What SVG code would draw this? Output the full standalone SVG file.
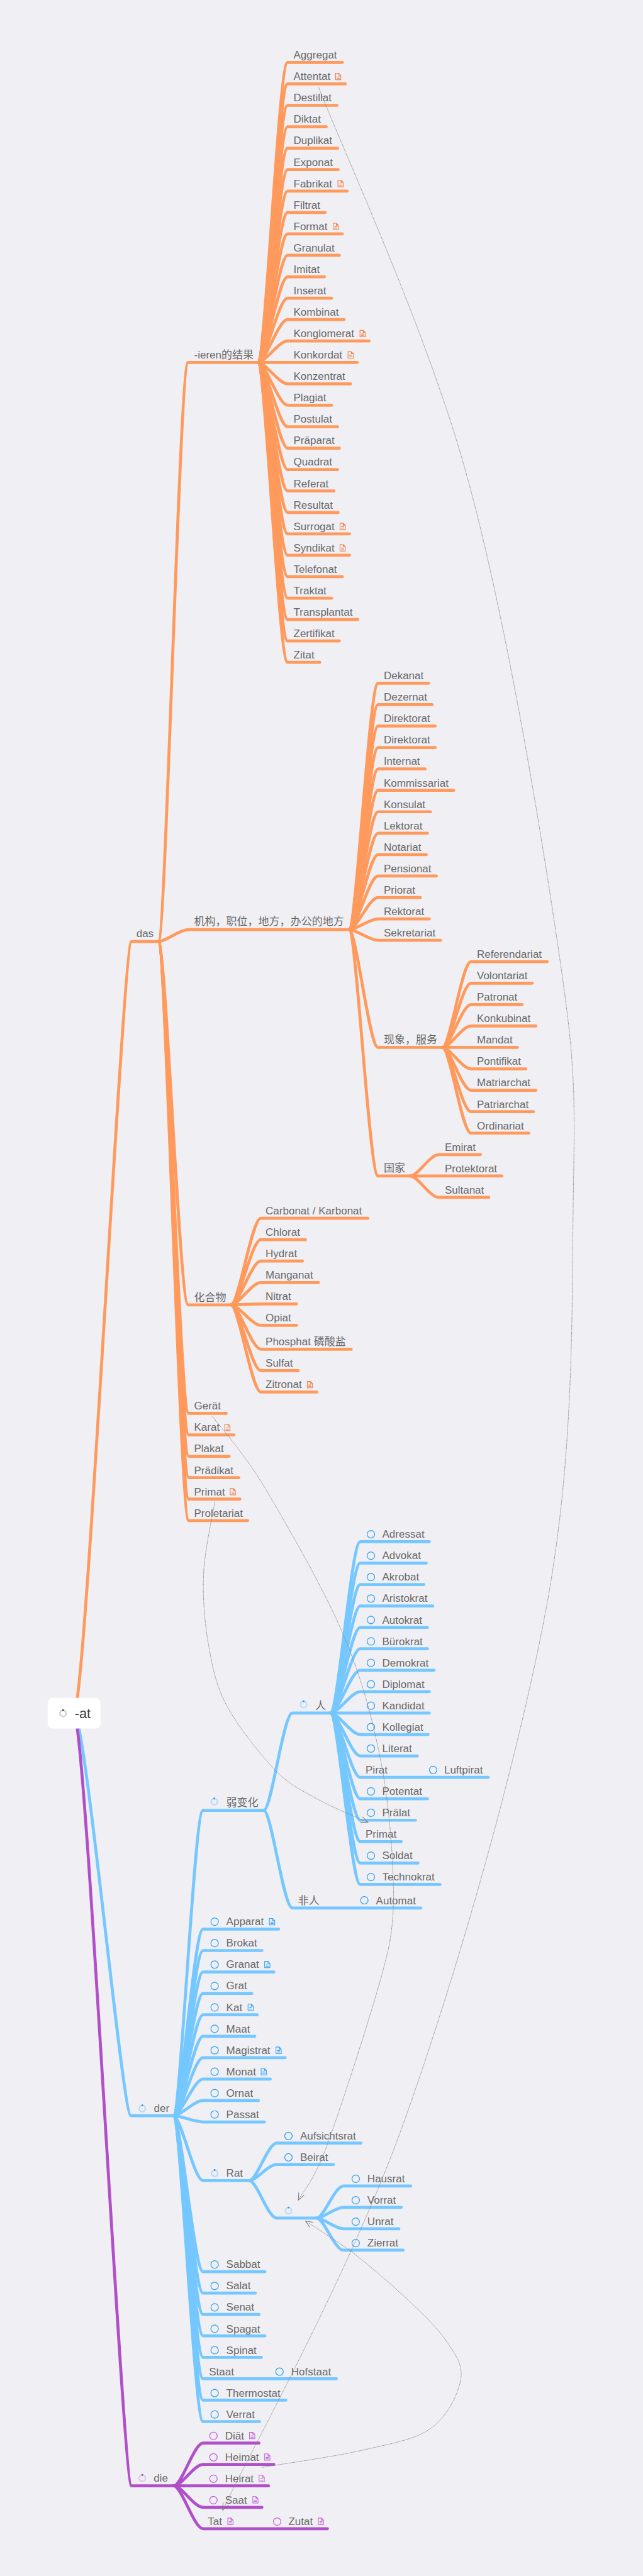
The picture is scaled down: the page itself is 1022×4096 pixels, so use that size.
<svg xmlns="http://www.w3.org/2000/svg" width="1022" height="4096" viewBox="0 0 1022 4096">
<style>
text{font-family:"Liberation Sans","Noto Sans CJK SC",Arial,sans-serif;font-size:18px;fill:#6a6a6a}
.root{font-size:23px;fill:#3c3c3c}
#connectors path{fill:none;stroke-width:5;stroke-linecap:round;stroke-linejoin:round}
#orange path{stroke:#ff9a5c}
#blue path{stroke:#75c7ff}
#purple path{stroke:#b14fc8}
#links path{fill:none;stroke:#858585;stroke-width:.9;stroke-dasharray:1.6 .7}
.cb,.cp{fill:none;stroke-width:1.3}
.cb{stroke:#2ba0f0}
.cp{stroke:#c060d8}
.doc{fill:none;stroke-width:1.1}
.do{stroke:#f2763c}
.db{stroke:#2ba0f0}
.dp{stroke:#c060d8}
.rb,.rp,.rg{fill:none;stroke-width:2.6}
.rb{stroke:#bcdcf5}
.rp{stroke:#e4c9ec}
.rg{stroke:#cfcfcf}
</style>
<defs>
<path id="doc" d="M.6.6H6L9.4 4V11.4H.6ZM6 .6V4H9.4M2.6 6.6H7.4M2.6 9H7.4"/>
<marker id="arr" markerUnits="userSpaceOnUse" markerWidth="16" markerHeight="14" refX="13" refY="6" orient="auto"><path d="M1 1L13 6L1 11" fill="none" stroke="#777" stroke-width="1"/></marker>
</defs>
<rect width="1022" height="4096" fill="#efeff4"/>
<g transform="scale(.9463)">
<g id="connectors">
<g id="orange">
<path d="M124 2879C144 2879 206 1582 221 1582H266"/>
<path d="M266 1582C279 1582 301 609 316 609H433"/>
<path d="M266 1582C279 1582 301 1562 316 1562H586"/>
<path d="M266 1582C279 1582 301 2192.5 316 2192.5H388"/>
<path d="M266 1582C279 1582 302 2375 317 2375H380"/>
<path d="M266 1582C279 1582 302 2411 317 2411H393"/>
<path d="M266 1582C279 1582 302 2447 317 2447H385"/>
<path d="M266 1582C279 1582 302 2483 317 2483H401"/>
<path d="M266 1582C279 1582 302 2519 317 2519H403"/>
<path d="M266 1582C279 1582 302 2555 317 2555H416"/>
<path d="M433 609C446 609 468 105 483 105H575"/>
<path d="M433 609C446 609 468 141 483 141H580"/>
<path d="M433 609C446 609 468 177 483 177H566"/>
<path d="M433 609C446 609 468 213 483 213H548"/>
<path d="M433 609C446 609 468 249 483 249H567"/>
<path d="M433 609C446 609 468 285 483 285H568"/>
<path d="M433 609C446 609 468 321 483 321H583"/>
<path d="M433 609C446 609 468 357 483 357H546"/>
<path d="M433 609C446 609 468 393 483 393H575"/>
<path d="M433 609C446 609 468 429 483 429H570"/>
<path d="M433 609C446 609 468 465 483 465H545"/>
<path d="M433 609C446 609 468 501 483 501H557"/>
<path d="M433 609C446 609 468 537 483 537H578"/>
<path d="M433 609C446 609 468 573 483 573H620"/>
<path d="M433 609H600"/>
<path d="M433 609C446 609 468 645 483 645H589"/>
<path d="M433 609C446 609 468 681 483 681H557"/>
<path d="M433 609C446 609 468 717 483 717H567"/>
<path d="M433 609C446 609 468 753 483 753H570"/>
<path d="M433 609C446 609 468 789 483 789H567"/>
<path d="M433 609C446 609 468 825 483 825H561"/>
<path d="M433 609C446 609 468 861 483 861H568"/>
<path d="M433 609C446 609 468 897 483 897H587"/>
<path d="M433 609C446 609 468 933 483 933H587"/>
<path d="M433 609C446 609 468 969 483 969H575"/>
<path d="M433 609C446 609 468 1005 483 1005H557"/>
<path d="M433 609C446 609 468 1041 483 1041H601"/>
<path d="M433 609C446 609 468 1077 483 1077H570"/>
<path d="M433 609C446 609 468 1113 483 1113H537"/>
<path d="M586 1562C599 1562 620 1148 635 1148H720"/>
<path d="M586 1562C599 1562 620 1184 635 1184H726"/>
<path d="M586 1562C599 1562 620 1220 635 1220H731"/>
<path d="M586 1562C599 1562 620 1256 635 1256H731"/>
<path d="M586 1562C599 1562 620 1292 635 1292H714"/>
<path d="M586 1562C599 1562 620 1328 635 1328H762"/>
<path d="M586 1562C599 1562 620 1364 635 1364H723"/>
<path d="M586 1562C599 1562 620 1400 635 1400H718"/>
<path d="M586 1562C599 1562 620 1436 635 1436H716"/>
<path d="M586 1562C599 1562 620 1472 635 1472H733"/>
<path d="M586 1562C599 1562 620 1508 635 1508H706"/>
<path d="M586 1562C599 1562 620 1544 635 1544H721"/>
<path d="M586 1562C599 1562 620 1580 635 1580H740"/>
<path d="M586 1562C599 1562 620 1760 635 1760H743"/>
<path d="M586 1562C599 1562 620 1976 635 1976H689"/>
<path d="M743 1760C756 1760 776 1616 791 1616H919"/>
<path d="M743 1760C756 1760 776 1652 791 1652H894"/>
<path d="M743 1760C756 1760 776 1688 791 1688H877"/>
<path d="M743 1760C756 1760 776 1724 791 1724H900"/>
<path d="M743 1760H869"/>
<path d="M743 1760C756 1760 776 1796 791 1796H883"/>
<path d="M743 1760C756 1760 776 1832 791 1832H900"/>
<path d="M743 1760C756 1760 776 1868 791 1868H896"/>
<path d="M743 1760C756 1760 776 1904 791 1904H888"/>
<path d="M689 1976C702 1976 722 1940 737 1940H807"/>
<path d="M689 1976H843"/>
<path d="M689 1976C702 1976 722 2012 737 2012H821"/>
<path d="M388 2192.5C401 2192.5 423 2047 438 2047H618"/>
<path d="M388 2192.5C401 2192.5 423 2083 438 2083H513"/>
<path d="M388 2192.5C401 2192.5 423 2119 438 2119H508"/>
<path d="M388 2192.5C401 2192.5 423 2155 438 2155H535"/>
<path d="M388 2192.5C401 2192.5 423 2191 438 2191H498"/>
<path d="M388 2192.5C401 2192.5 423 2227 438 2227H498"/>
<path d="M388 2192.5C401 2192.5 423 2267 438 2267H590"/>
<path d="M388 2192.5C401 2192.5 423 2303 438 2303H501"/>
<path d="M388 2192.5C401 2192.5 423 2339 438 2339H532"/>
</g>
<g id="blue">
<path d="M124 2879C144 2879 205 3555 220 3555H291"/>
<path d="M291 3555C304 3555 326 3042 341 3042H443"/>
<path d="M443 3042C456 3042 476 2878.5 491 2878.5H555"/>
<path d="M443 3042C456 3042 476 3206 491 3206H707"/>
<path d="M555 2878.5C568 2878.5 590 2590.5 605 2590.5H721"/>
<path d="M555 2878.5C568 2878.5 590 2626.5 605 2626.5H716"/>
<path d="M555 2878.5C568 2878.5 590 2662.5 605 2662.5H712"/>
<path d="M555 2878.5C568 2878.5 590 2698.5 605 2698.5H727"/>
<path d="M555 2878.5C568 2878.5 590 2734.5 605 2734.5H718"/>
<path d="M555 2878.5C568 2878.5 590 2770.5 605 2770.5H718"/>
<path d="M555 2878.5C568 2878.5 590 2806.5 605 2806.5H729"/>
<path d="M555 2878.5C568 2878.5 590 2842.5 605 2842.5H721"/>
<path d="M555 2878.5H721"/>
<path d="M555 2878.5C568 2878.5 590 2914.5 605 2914.5H719"/>
<path d="M555 2878.5C568 2878.5 590 2950.5 605 2950.5H701"/>
<path d="M555 2878.5C568 2878.5 590 2986.5 605 2986.5H820"/>
<path d="M555 2878.5C568 2878.5 590 3022.5 605 3022.5H718"/>
<path d="M555 2878.5C568 2878.5 590 3058.5 605 3058.5H698"/>
<path d="M555 2878.5C568 2878.5 590 3094.5 605 3094.5H674"/>
<path d="M555 2878.5C568 2878.5 590 3130.5 605 3130.5H702"/>
<path d="M555 2878.5C568 2878.5 590 3166.5 605 3166.5H739"/>
<path d="M291 3555C304 3555 326 3241.5 341 3241.5H468"/>
<path d="M291 3555C304 3555 326 3277.5 341 3277.5H440"/>
<path d="M291 3555C304 3555 326 3313.5 341 3313.5H460"/>
<path d="M291 3555C304 3555 326 3349.5 341 3349.5H423"/>
<path d="M291 3555C304 3555 326 3385.5 341 3385.5H432"/>
<path d="M291 3555C304 3555 326 3421.5 341 3421.5H428"/>
<path d="M291 3555C304 3555 326 3457.5 341 3457.5H479"/>
<path d="M291 3555C304 3555 326 3493.5 341 3493.5H454"/>
<path d="M291 3555C304 3555 326 3529.5 341 3529.5H434"/>
<path d="M291 3555C304 3555 326 3565.5 341 3565.5H444"/>
<path d="M291 3555C304 3555 326 3664 341 3664H419"/>
<path d="M291 3555C304 3555 326 3817 341 3817H445"/>
<path d="M291 3555C304 3555 326 3853 341 3853H429"/>
<path d="M291 3555C304 3555 326 3889 341 3889H435"/>
<path d="M291 3555C304 3555 326 3925 341 3925H445"/>
<path d="M291 3555C304 3555 326 3961 341 3961H439"/>
<path d="M291 3555C304 3555 326 3997 341 3997H565"/>
<path d="M291 3555C304 3555 326 4033 341 4033H480"/>
<path d="M291 3555C304 3555 326 4069 341 4069H436"/>
<path d="M419 3664C431 3664 450 3601 465 3601H606"/>
<path d="M419 3664C431 3664 450 3637 465 3637H560"/>
<path d="M419 3664C431 3664 450 3727 465 3727H532"/>
<path d="M532 3727C544 3727 562 3673 577 3673H690"/>
<path d="M532 3727C544 3727 562 3709 577 3709H674"/>
<path d="M532 3727C544 3727 562 3745 577 3745H670"/>
<path d="M532 3727C544 3727 562 3781 577 3781H677"/>
</g>
<g id="purple">
<path d="M124 2879C144 2879 206 4177 221 4177H292"/>
<path d="M292 4177C305 4177 326 4105 341 4105H435"/>
<path d="M292 4177C305 4177 326 4141 341 4141H460"/>
<path d="M292 4177H451"/>
<path d="M292 4177C305 4177 326 4213 341 4213H440"/>
<path d="M292 4177C305 4177 326 4249 341 4249H550"/>
</g>
</g>
<g id="n-root"><rect x="80" y="2853" width="89" height="51.5" rx="9" fill="#fff"/><circle class="rg" cx="106" cy="2879" r="5.2"/><circle cx="106" cy="2873.6" r="1.5" fill="#444"/><text class="root" x="125.5" y="2887">-at</text></g>
<g id="n-das"><text x="229" y="1575">das</text></g>
<g id="n-ieren"><text x="326" y="602">-ieren的结果</text></g>
<g id="n-aggregat"><text x="493" y="98.5">Aggregat</text></g>
<g id="n-attentat"><text x="493" y="134.5">Attentat</text><use href="#doc" class="doc do" x="563" y="122.5"/></g>
<g id="n-destillat"><text x="493" y="170.5">Destillat</text></g>
<g id="n-diktat"><text x="493" y="206.5">Diktat</text></g>
<g id="n-duplikat"><text x="493" y="242.5">Duplikat</text></g>
<g id="n-exponat"><text x="493" y="278.5">Exponat</text></g>
<g id="n-fabrikat"><text x="493" y="314.5">Fabrikat</text><use href="#doc" class="doc do" x="567" y="302.5"/></g>
<g id="n-filtrat"><text x="493" y="350.5">Filtrat</text></g>
<g id="n-format"><text x="493" y="386.5">Format</text><use href="#doc" class="doc do" x="559" y="374.5"/></g>
<g id="n-granulat"><text x="493" y="422.5">Granulat</text></g>
<g id="n-imitat"><text x="493" y="458.5">Imitat</text></g>
<g id="n-inserat"><text x="493" y="494.5">Inserat</text></g>
<g id="n-kombinat"><text x="493" y="530.5">Kombinat</text></g>
<g id="n-konglomerat"><text x="493" y="566.5">Konglomerat</text><use href="#doc" class="doc do" x="604" y="554.5"/></g>
<g id="n-konkordat"><text x="493" y="602.5">Konkordat</text><use href="#doc" class="doc do" x="584" y="590.5"/></g>
<g id="n-konzentrat"><text x="493" y="638.5">Konzentrat</text></g>
<g id="n-plagiat"><text x="493" y="674.5">Plagiat</text></g>
<g id="n-postulat"><text x="493" y="710.5">Postulat</text></g>
<g id="n-praeparat"><text x="493" y="746.5">Präparat</text></g>
<g id="n-quadrat"><text x="493" y="782.5">Quadrat</text></g>
<g id="n-referat"><text x="493" y="818.5">Referat</text></g>
<g id="n-resultat"><text x="493" y="854.5">Resultat</text></g>
<g id="n-surrogat"><text x="493" y="890.5">Surrogat</text><use href="#doc" class="doc do" x="570.5" y="878.5"/></g>
<g id="n-syndikat"><text x="493" y="926.5">Syndikat</text><use href="#doc" class="doc do" x="570.5" y="914.5"/></g>
<g id="n-telefonat"><text x="493" y="962.5">Telefonat</text></g>
<g id="n-traktat"><text x="493" y="998.5">Traktat</text></g>
<g id="n-transplantat"><text x="493" y="1034.5">Transplantat</text></g>
<g id="n-zertifikat"><text x="493" y="1070.5">Zertifikat</text></g>
<g id="n-zitat"><text x="493" y="1106.5">Zitat</text></g>
<g id="n-jigou"><text x="326" y="1555">机构，职位，地方，办公的地方</text></g>
<g id="n-dekanat"><text x="644.5" y="1141.5">Dekanat</text></g>
<g id="n-dezernat"><text x="644.5" y="1177.5">Dezernat</text></g>
<g id="n-direktorat-1"><text x="644.5" y="1213.5">Direktorat</text></g>
<g id="n-direktorat-2"><text x="644.5" y="1249.5">Direktorat</text></g>
<g id="n-internat"><text x="644.5" y="1285.5">Internat</text></g>
<g id="n-kommissariat"><text x="644.5" y="1321.5">Kommissariat</text></g>
<g id="n-konsulat"><text x="644.5" y="1357.5">Konsulat</text></g>
<g id="n-lektorat"><text x="644.5" y="1393.5">Lektorat</text></g>
<g id="n-notariat"><text x="644.5" y="1429.5">Notariat</text></g>
<g id="n-pensionat"><text x="644.5" y="1465.5">Pensionat</text></g>
<g id="n-priorat"><text x="644.5" y="1501.5">Priorat</text></g>
<g id="n-rektorat"><text x="644.5" y="1537.5">Rektorat</text></g>
<g id="n-sekretariat"><text x="644.5" y="1573.5">Sekretariat</text></g>
<g id="n-xianxiang"><text x="644.5" y="1753">现象，服务</text></g>
<g id="n-referendariat"><text x="801" y="1609.5">Referendariat</text></g>
<g id="n-volontariat"><text x="801" y="1645.5">Volontariat</text></g>
<g id="n-patronat"><text x="801" y="1681.5">Patronat</text></g>
<g id="n-konkubinat"><text x="801" y="1717.5">Konkubinat</text></g>
<g id="n-mandat"><text x="801" y="1753.5">Mandat</text></g>
<g id="n-pontifikat"><text x="801" y="1789.5">Pontifikat</text></g>
<g id="n-matriarchat"><text x="801" y="1825.5">Matriarchat</text></g>
<g id="n-patriarchat"><text x="801" y="1861.5">Patriarchat</text></g>
<g id="n-ordinariat"><text x="801" y="1897.5">Ordinariat</text></g>
<g id="n-guojia"><text x="644.5" y="1969">国家</text></g>
<g id="n-emirat"><text x="747" y="1933.5">Emirat</text></g>
<g id="n-protektorat"><text x="747" y="1969.5">Protektorat</text></g>
<g id="n-sultanat"><text x="747" y="2005.5">Sultanat</text></g>
<g id="n-huahewu"><text x="326" y="2186">化合物</text></g>
<g id="n-carbonat"><text x="446" y="2040.5">Carbonat / Karbonat</text></g>
<g id="n-chlorat"><text x="446" y="2076.5">Chlorat</text></g>
<g id="n-hydrat"><text x="446" y="2112.5">Hydrat</text></g>
<g id="n-manganat"><text x="446" y="2148.5">Manganat</text></g>
<g id="n-nitrat"><text x="446" y="2184.5">Nitrat</text></g>
<g id="n-opiat"><text x="446" y="2220.5">Opiat</text></g>
<g id="n-phosphat"><text x="446" y="2260.5">Phosphat 磷酸盐</text></g>
<g id="n-sulfat"><text x="446" y="2296.5">Sulfat</text></g>
<g id="n-zitronat"><text x="446" y="2332.5">Zitronat</text><use href="#doc" class="doc do" x="515.5" y="2320.5"/></g>
<g id="n-geraet"><text x="326" y="2368.5">Gerät</text></g>
<g id="n-karat"><text x="326" y="2404.5">Karat</text><use href="#doc" class="doc do" x="377" y="2392.5"/></g>
<g id="n-plakat"><text x="326" y="2440.5">Plakat</text></g>
<g id="n-praedikat"><text x="326" y="2476.5">Prädikat</text></g>
<g id="n-primat-das"><text x="326" y="2512.5">Primat</text><use href="#doc" class="doc do" x="386" y="2500.5"/></g>
<g id="n-proletariat"><text x="326" y="2548.5">Proletariat</text></g>
<g id="n-der"><circle class="rb" cx="239" cy="3543" r="5.2"/><circle cx="239" cy="3537.6" r="1.5" fill="#1e90e8"/><text x="258.5" y="3548.5">der</text></g>
<g id="n-schwach"><circle class="rb" cx="360" cy="3027.5" r="5.2"/><circle cx="360" cy="3022" r="1.5" fill="#1e90e8"/><text x="380" y="3035.5">弱变化</text></g>
<g id="n-ren"><circle class="rb" cx="510" cy="2864" r="5.2"/><circle cx="510" cy="2858.6" r="1.5" fill="#1e90e8"/><text x="529.5" y="2872">人</text></g>
<g id="n-adressat"><circle class="cb" cx="623" cy="2578" r="6.3"/><text x="642" y="2584">Adressat</text></g>
<g id="n-advokat"><circle class="cb" cx="623" cy="2614" r="6.3"/><text x="642" y="2620">Advokat</text></g>
<g id="n-akrobat"><circle class="cb" cx="623" cy="2650" r="6.3"/><text x="642" y="2656">Akrobat</text></g>
<g id="n-aristokrat"><circle class="cb" cx="623" cy="2686" r="6.3"/><text x="642" y="2692">Aristokrat</text></g>
<g id="n-autokrat"><circle class="cb" cx="623" cy="2722" r="6.3"/><text x="642" y="2728">Autokrat</text></g>
<g id="n-buerokrat"><circle class="cb" cx="623" cy="2758" r="6.3"/><text x="642" y="2764">Bürokrat</text></g>
<g id="n-demokrat"><circle class="cb" cx="623" cy="2794" r="6.3"/><text x="642" y="2800">Demokrat</text></g>
<g id="n-diplomat"><circle class="cb" cx="623" cy="2830" r="6.3"/><text x="642" y="2836">Diplomat</text></g>
<g id="n-kandidat"><circle class="cb" cx="623" cy="2866" r="6.3"/><text x="642" y="2872">Kandidat</text></g>
<g id="n-kollegiat"><circle class="cb" cx="623" cy="2902" r="6.3"/><text x="642" y="2908">Kollegiat</text></g>
<g id="n-literat"><circle class="cb" cx="623" cy="2938" r="6.3"/><text x="642" y="2944">Literat</text></g>
<g id="n-pirat"><text x="614" y="2980">Pirat</text></g>
<g id="n-luftpirat"><circle class="cb" cx="727.5" cy="2974" r="6.3"/><text x="746" y="2980">Luftpirat</text></g>
<g id="n-potentat"><circle class="cb" cx="623" cy="3010" r="6.3"/><text x="642" y="3016">Potentat</text></g>
<g id="n-praelat"><circle class="cb" cx="623" cy="3046" r="6.3"/><text x="642" y="3052">Prälat</text></g>
<g id="n-primat-der"><text x="614" y="3088">Primat</text></g>
<g id="n-soldat"><circle class="cb" cx="623" cy="3118" r="6.3"/><text x="642" y="3124">Soldat</text></g>
<g id="n-technokrat"><circle class="cb" cx="623" cy="3154" r="6.3"/><text x="642" y="3160">Technokrat</text></g>
<g id="n-nichtperson"><text x="500.5" y="3199.5">非人</text></g>
<g id="n-automat"><circle class="cb" cx="612" cy="3193" r="6.3"/><text x="631.5" y="3199.5">Automat</text></g>
<g id="n-apparat"><circle class="cb" cx="360.5" cy="3229" r="6.3"/><text x="380" y="3235">Apparat</text><use href="#doc" class="doc db" x="452" y="3223"/></g>
<g id="n-brokat"><circle class="cb" cx="360.5" cy="3265" r="6.3"/><text x="380" y="3271">Brokat</text></g>
<g id="n-granat"><circle class="cb" cx="360.5" cy="3301" r="6.3"/><text x="380" y="3307">Granat</text><use href="#doc" class="doc db" x="444" y="3295"/></g>
<g id="n-grat"><circle class="cb" cx="360.5" cy="3337" r="6.3"/><text x="380" y="3343">Grat</text></g>
<g id="n-kat"><circle class="cb" cx="360.5" cy="3373" r="6.3"/><text x="380" y="3379">Kat</text><use href="#doc" class="doc db" x="416" y="3367"/></g>
<g id="n-maat"><circle class="cb" cx="360.5" cy="3409" r="6.3"/><text x="380" y="3415">Maat</text></g>
<g id="n-magistrat"><circle class="cb" cx="360.5" cy="3445" r="6.3"/><text x="380" y="3451">Magistrat</text><use href="#doc" class="doc db" x="463" y="3439"/></g>
<g id="n-monat"><circle class="cb" cx="360.5" cy="3481" r="6.3"/><text x="380" y="3487">Monat</text><use href="#doc" class="doc db" x="438" y="3475"/></g>
<g id="n-ornat"><circle class="cb" cx="360.5" cy="3517" r="6.3"/><text x="380" y="3523">Ornat</text></g>
<g id="n-passat"><circle class="cb" cx="360.5" cy="3553" r="6.3"/><text x="380" y="3559">Passat</text></g>
<g id="n-rat"><circle class="rb" cx="360.5" cy="3651.7" r="5.2"/><circle cx="360.5" cy="3646.3" r="1.5" fill="#1e90e8"/><text x="380" y="3657.5">Rat</text></g>
<g id="n-aufsichtsrat"><circle class="cb" cx="484.5" cy="3589" r="6.3"/><text x="504" y="3595">Aufsichtsrat</text></g>
<g id="n-beirat"><circle class="cb" cx="484.5" cy="3625" r="6.3"/><text x="504" y="3631">Beirat</text></g>
<g id="n-unnamed"><circle class="rb" cx="484.5" cy="3714.7" r="5.2"/><circle cx="484.5" cy="3709.3" r="1.5" fill="#1e90e8"/></g>
<g id="n-hausrat"><circle class="cb" cx="597.5" cy="3661" r="6.3"/><text x="617" y="3667">Hausrat</text></g>
<g id="n-vorrat"><circle class="cb" cx="597.5" cy="3697" r="6.3"/><text x="617" y="3703">Vorrat</text></g>
<g id="n-unrat"><circle class="cb" cx="597.5" cy="3733" r="6.3"/><text x="617" y="3739">Unrat</text></g>
<g id="n-zierrat"><circle class="cb" cx="597.5" cy="3769" r="6.3"/><text x="617" y="3775">Zierrat</text></g>
<g id="n-sabbat"><circle class="cb" cx="360.5" cy="3805" r="6.3"/><text x="380" y="3811">Sabbat</text></g>
<g id="n-salat"><circle class="cb" cx="360.5" cy="3841" r="6.3"/><text x="380" y="3847">Salat</text></g>
<g id="n-senat"><circle class="cb" cx="360.5" cy="3877" r="6.3"/><text x="380" y="3883">Senat</text></g>
<g id="n-spagat"><circle class="cb" cx="360.5" cy="3913" r="6.3"/><text x="380" y="3919">Spagat</text></g>
<g id="n-spinat"><circle class="cb" cx="360.5" cy="3949" r="6.3"/><text x="380" y="3955">Spinat</text></g>
<g id="n-staat"><text x="351" y="3991">Staat</text></g>
<g id="n-hofstaat"><circle class="cb" cx="469.5" cy="3985" r="6.3"/><text x="489" y="3991">Hofstaat</text></g>
<g id="n-thermostat"><circle class="cb" cx="360.5" cy="4021" r="6.3"/><text x="380" y="4027">Thermostat</text></g>
<g id="n-verrat"><circle class="cb" cx="360.5" cy="4057" r="6.3"/><text x="380" y="4063">Verrat</text></g>
<g id="n-die"><circle class="rp" cx="239" cy="4164" r="5.2"/><circle cx="239" cy="4158.6" r="1.5" fill="#a040c0"/><text x="258" y="4170">die</text></g>
<g id="n-diaet"><circle class="cp" cx="358.5" cy="4093" r="6.3"/><text x="378" y="4099">Diät</text><use href="#doc" class="doc dp" x="418.5" y="4086.5"/></g>
<g id="n-heimat"><circle class="cp" cx="358.5" cy="4129" r="6.3"/><text x="378" y="4135">Heimat</text><use href="#doc" class="doc dp" x="444" y="4122.5"/></g>
<g id="n-heirat"><circle class="cp" cx="358.5" cy="4165" r="6.3"/><text x="378" y="4171">Heirat</text><use href="#doc" class="doc dp" x="434.5" y="4158.5"/></g>
<g id="n-saat"><circle class="cp" cx="358.5" cy="4201" r="6.3"/><text x="378" y="4207">Saat</text><use href="#doc" class="doc dp" x="424" y="4194.5"/></g>
<g id="n-tat"><text x="349" y="4243">Tat</text><use href="#doc" class="doc dp" x="382" y="4230.5"/></g>
<g id="n-zutat"><circle class="cp" cx="465.5" cy="4237" r="6.3"/><text x="484.5" y="4243">Zutat</text><use href="#doc" class="doc dp" x="534" y="4230.5"/></g>
<g id="links">
<path marker-end="url(#arr)" d="M535 146C576 253 714 549 781 788C848 1027 906 1379 936 1582C966 1785 966 1819 963 2006C960 2193 966 2434 919 2694C871 2954 769 3313 678 3567C587 3821 425 4110 374 4218"/>
<path marker-end="url(#arr)" d="M356 2379C371 2399 408 2439 445 2500C481 2561 543 2668 575 2743C607 2818 623 2879 637 2946C651 3013 658 3090 660 3147C662 3190 662 3235 650 3285C632 3360 576 3531 551 3600C526 3669 509 3681 501 3697"/>
<path marker-end="url(#arr)" d="M361 2523C358 2543 344 2602 342 2643C340 2684 344 2730 351 2768C358 2806 363 2833 382 2868C401 2903 438 2949 463 2975C488 3001 507 3008 533 3023C559 3037 604 3056 618 3062"/>
<path marker-end="url(#arr)" d="M440 4146C468 4141 562 4128 609 4117C656 4106 696 4100 724 4080C752 4060 770 4022 774 3997C778 3972 763 3953 747 3930C731 3907 703 3881 677 3857C651 3833 617 3804 590 3783C564 3765 526 3740 513 3732"/>
</g>
</g>
</svg>
